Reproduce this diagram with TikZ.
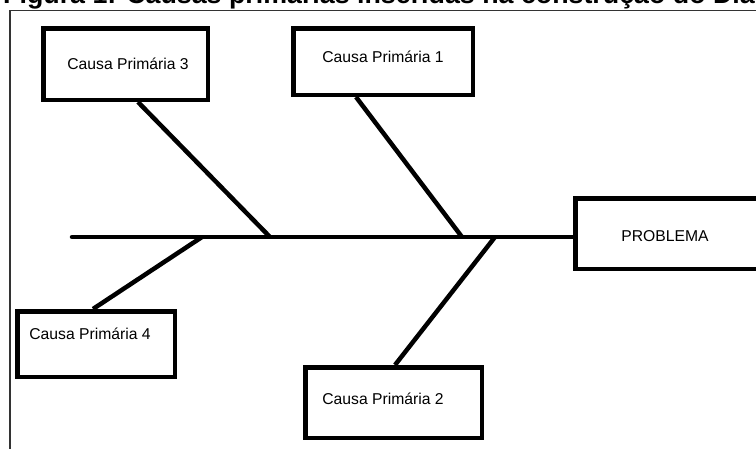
\documentclass[tikz,border=0pt]{standalone}
\usepackage{fontspec}
\setmainfont{Liberation Sans}
\begin{document}
\begin{tikzpicture}[x=1pt,y=-1pt,
  caixa/.style={draw, line width=4.5pt, inner sep=0pt},
  rotulo/.style={font=\fontsize{15.7}{18}\selectfont, inner sep=0pt},
  espinha/.style={line width=4.5pt}]
\clip (0,0) rectangle (756,448);
\node[font=\fontsize{26.8}{30}\selectfont\bfseries, anchor=base west, inner sep=0pt] (titulo) at (3,3) {Figura 1: Causas primárias inseridas na construção do Dia};
\draw[line width=1.5pt, black!80] (10,10.5) rectangle (780,470);
% caixas
\node[caixa, minimum width=164.5pt, minimum height=71.5pt] (c3) at (125.5,64) {};
\node[caixa, minimum width=179.5pt, minimum height=66.5pt] (c1) at (383,61.5) {};
\node[caixa, minimum width=157.5pt, minimum height=65.5pt] (c4) at (96,344) {};
\node[caixa, minimum width=176.5pt, minimum height=70.5pt] (c2) at (393.5,402.5) {};
\node[caixa, minimum width=222.5pt, minimum height=70.5pt] (prob) at (686.5,233.5) {};
\node[rotulo] (t3) at (128,63.5) {Causa Primária 3};
\node[rotulo] (t1) at (383,57) {Causa Primária 1};
\node[rotulo] (t4) at (90,334) {Causa Primária 4};
\node[rotulo] (t2) at (383,399) {Causa Primária 2};
\node[rotulo] (tp) at (665,236) {PROBLEMA};
% espinha
\coordinate (cauda) at (72,237);
\coordinate (e4) at (202,237);
\coordinate (e3) at (270,237);
\coordinate (e1) at (462,237);
\coordinate (e2) at (495,237);
\draw[espinha, line cap=round] (cauda) -- (cauda -| prob.west);
\draw[espinha] ([xshift=12.5pt]c3.south) -- (e3);
\draw[espinha] ([xshift=-27pt]c1.south) -- (e1);
\draw[espinha] ([xshift=-3pt]c4.north) -- (e4);
\draw[espinha] ([xshift=1.5pt]c2.north) -- (e2);
\end{tikzpicture}
\end{document}
